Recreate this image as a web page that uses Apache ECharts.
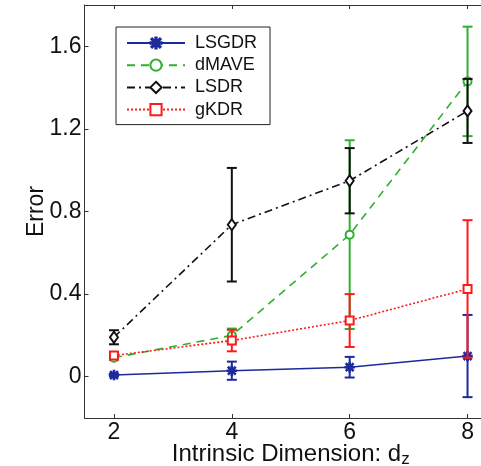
<!DOCTYPE html>
<html>
<head>
<meta charset="utf-8">
<script src="https://cdn.jsdelivr.net/npm/echarts@6/dist/echarts.min.js"></script>
<style>html,body{margin:0;padding:0;background:#fff}#c{width:481px;height:466px}</style>
</head>
<body>
<div id="c"></div>
<script>
// ---- data ----
const dims = [2, 4, 6, 8];
const xTicks = [2, 4, 6, 8];
const yTicks = [0, 0.4, 0.8, 1.2, 1.6];
const seriesNames = ['LSGDR', 'dMAVE', 'LSDR', 'gKDR'];
const lsgdr = [0.008, 0.029, 0.046, 0.100];
const lsgdrErr = [0.006, 0.044, 0.050, 0.199];
const dmave = [0.092, 0.200, 0.688, 1.430];
const dmaveErr = [0.012, 0.033, 0.457, 0.265];
const lsdr = [0.191, 0.736, 0.949, 1.287];
const lsdrErr = [0.034, 0.275, 0.158, 0.155];
const gkdr = [0.103, 0.175, 0.272, 0.425];
const gkdrErr = [0.016, 0.052, 0.128, 0.333];

const FONT = 'Liberation Sans, Arial, Helvetica, sans-serif';
const asterisk = 'path://M4.4 0L5.6 0L5.6 10L4.4 10ZM0 4.4L10 4.4L10 5.6L0 5.6ZM0.8 1.6L1.6 0.8L9.2 8.4L8.4 9.2ZM8.4 0.8L9.2 1.6L1.6 9.2L0.8 8.4Z';

const styles = [
  {color: '#1c2a9c', type: 'solid', symbol: asterisk, size: 9, width: 1.6},
  {color: '#30b030', type: [8, 6], symbol: 'emptyCircle', size: 8, width: 1.6},
  {color: '#111111', type: [8, 4, 2, 4], symbol: 'emptyDiamond', size: [8, 11], width: 1.6},
  {color: '#ff1a1a', type: [2, 2], symbol: 'emptyRect', size: 8, width: 1.6}
];
const values = [lsgdr, dmave, lsdr, gkdr];
const errs = [lsgdrErr, dmaveErr, lsdrErr, gkdrErr];

const series = [];
values.forEach((vals, k) => {
  const st = styles[k];
  series.push({
    type: 'custom',
    name: seriesNames[k] + '_err',
    z: 2 + 2 * k,
    silent: true,
    data: dims.map((d, i) => [d, vals[i], errs[k][i]]),
    renderItem: function (params, api) {
      const x = api.value(0), y = api.value(1), e = api.value(2);
      const t = api.coord([x, y + e]);
      const b = api.coord([x, y - e]);
      const w = 5;
      const s = {stroke: st.color, lineWidth: 2};
      return {
        type: 'group',
        children: [
          {type: 'line', shape: {x1: t[0], y1: t[1], x2: b[0], y2: b[1]}, style: s},
          {type: 'line', shape: {x1: t[0] - w, y1: t[1], x2: t[0] + w, y2: t[1]}, style: s},
          {type: 'line', shape: {x1: b[0] - w, y1: b[1], x2: b[0] + w, y2: b[1]}, style: s}
        ]
      };
    }
  });
  series.push({
    type: 'line',
    name: seriesNames[k],
    z: 3 + 2 * k,
    data: dims.map((d, i) => [d, vals[i]]),
    symbol: st.symbol,
    symbolSize: st.size,
    showAllSymbol: true,
    lineStyle: {color: st.color, type: st.type, width: st.width},
    itemStyle: {color: st.color, borderColor: st.color, borderWidth: 1.5},
    emphasis: {disabled: true}
  });
});

const chart = echarts.init(document.getElementById('c'), null, {renderer: 'canvas'});
chart.setOption({
  animation: false,
  backgroundColor: '#fff',
  grid: {left: 84.5, top: 5, right: -16, bottom: 48, show: false, containLabel: false, outerBoundsMode: 'none'},
  legend: {
    data: seriesNames,
    orient: 'vertical',
    left: 116,
    top: 27,
    padding: [7, 13, 6, 10],
    itemWidth: 58,
    itemHeight: 14,
    itemGap: 4.2,
    backgroundColor: '#fff',
    borderColor: '#222',
    borderWidth: 1,
    borderRadius: 0,
    selectedMode: false,
    textStyle: {fontFamily: FONT, fontSize: 18, color: '#111', lineHeight: 14, padding: [0, 0, 0, 5]}
  },
  xAxis: [{
    type: 'value', min: 1.5, max: 8.5,
    name: '{a|Intrinsic Dimension: d}{s|z}',
    nameLocation: 'middle', nameGap: 23, nameMoveOverlap: false,
    nameTextStyle: {rich: {
      a: {fontFamily: FONT, fontSize: 24, color: '#111'},
      s: {fontFamily: FONT, fontSize: 17, color: '#111', padding: [10, 0, 0, 0]}
    }},
    axisLine: {show: true, onZero: false, lineStyle: {color: '#333', width: 1}},
    axisTick: {show: true, inside: true, length: 4, customValues: xTicks, lineStyle: {color: '#333'}},
    axisLabel: {customValues: xTicks, margin: 3, fontFamily: FONT, fontSize: 23, color: '#111'},
    splitLine: {show: false}
  }, {
    type: 'value', min: 1.5, max: 8.5, position: 'top',
    axisLine: {show: true, onZero: false, lineStyle: {color: '#333', width: 1}},
    axisTick: {show: true, inside: true, length: 4, customValues: xTicks, lineStyle: {color: '#333'}},
    axisLabel: {show: false},
    splitLine: {show: false}
  }],
  yAxis: [{
    type: 'value', min: -0.2, max: 1.8,
    name: 'Error', nameLocation: 'middle', nameGap: 36, nameMoveOverlap: false,
    nameTextStyle: {fontFamily: FONT, fontSize: 23, color: '#111'},
    axisLine: {show: true, onZero: false, lineStyle: {color: '#333', width: 1}},
    axisTick: {show: true, inside: true, length: 4, customValues: yTicks, lineStyle: {color: '#333'}},
    axisLabel: {customValues: yTicks, margin: 3, fontFamily: FONT, fontSize: 23, color: '#111',
      formatter: v => (Math.abs(v) < 1e-9 ? '0' : v.toFixed(1))},
    splitLine: {show: false}
  }],
  series: series
});
</script>
</body>
</html>
